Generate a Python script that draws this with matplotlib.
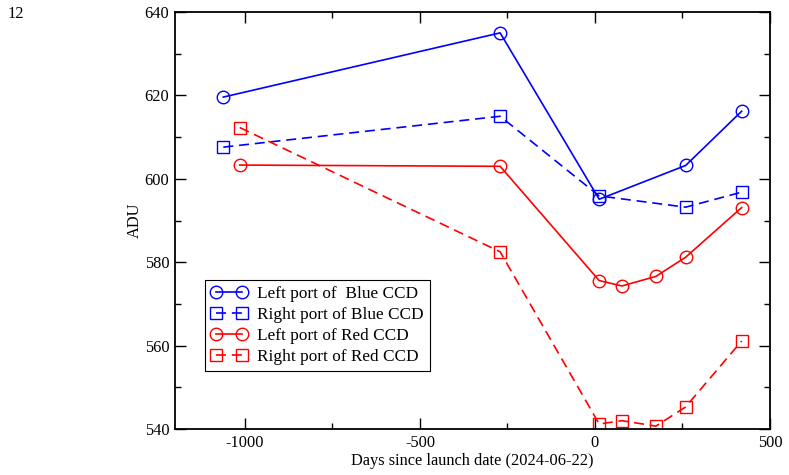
import matplotlib
matplotlib.use("Agg")
import matplotlib.pyplot as plt
from matplotlib.ticker import MultipleLocator

plt.rcParams['font.family'] = ['Liberation Serif', 'DejaVu Serif']
plt.rcParams['axes.unicode_minus'] = False

# Data
blue_left_x = [-1062, -271, 12, 259, 419]
blue_left_y = [619.6, 635.0, 595.1, 603.2, 616.2]
blue_right_x = [-1062, -271, 12, 259, 419]
blue_right_y = [607.6, 615.0, 595.9, 593.2, 596.8]
red_left_x = [-1015, -271, 12, 77, 174, 259, 419]
red_left_y = [603.3, 603.0, 575.6, 574.3, 576.6, 581.2, 593.1]
red_right_x = [-1015, -271, 12, 77, 174, 259, 419]
red_right_y = [612.3, 582.5, 541.2, 542.0, 540.7, 545.3, 561.1]

labels = ["Left port of  Blue CCD", "Right port of Blue CCD",
          "Left port of Red CCD", "Right port of Red CCD"]

fs = 11.8
fig = plt.figure(figsize=(7.89, 4.75), dpi=100)
ax = fig.add_axes([0.2218, 0.0968, 0.9759 - 0.2218, 0.9747 - 0.0968])

lw = 1.2
ax.plot(blue_left_x, blue_left_y, color='blue', ls='-', lw=lw, marker='o',
        ms=9, mfc='none', mec='blue', mew=1.0, label=labels[0])
ax.plot(blue_right_x, blue_right_y, color='blue', ls=(0, (6, 3.5)), lw=lw, marker='s',
        ms=8, mfc='none', mec='blue', mew=1.0, label=labels[1])
ax.plot(red_left_x, red_left_y, color='red', ls='-', lw=lw, marker='o',
        ms=9, mfc='none', mec='red', mew=1.0, label=labels[2])
ax.plot(red_right_x, red_right_y, color='red', ls=(0, (6, 3.5)), lw=lw, marker='s',
        ms=8, mfc='none', mec='red', mew=1.0, label=labels[3])

ax.set_xlim(-1200, 500)
ax.set_ylim(540, 640)
ax.xaxis.set_major_locator(MultipleLocator(500))
ax.xaxis.set_minor_locator(MultipleLocator(250))
ax.yaxis.set_major_locator(MultipleLocator(20))
ax.yaxis.set_minor_locator(MultipleLocator(10))
ax.tick_params(which='both', direction='in', top=True, right=True, labelsize=fs,
               width=1.0, pad=4)
ax.tick_params(which='major', length=8)
ax.tick_params(which='minor', length=4)
for s in ax.spines.values():
    s.set_linewidth(1.3)

ax.set_xlabel("Days since launch date (2024-06-22)", fontsize=fs, labelpad=2)
ax.set_ylabel("ADU", fontsize=fs, labelpad=1)

leg = ax.legend(loc='lower left', bbox_to_anchor=(0.05, 0.14), numpoints=2,
                fancybox=False, edgecolor='black', framealpha=1, fontsize=12.4,
                handlelength=2.1, borderpad=0.35, labelspacing=0.28,
                handletextpad=0.6, borderaxespad=0)
leg.get_frame().set_linewidth(0.8)

fig.text(0.009, 0.97, "12", fontsize=fs, va='center', ha='left')

fig.savefig("out.png", dpi=100)
